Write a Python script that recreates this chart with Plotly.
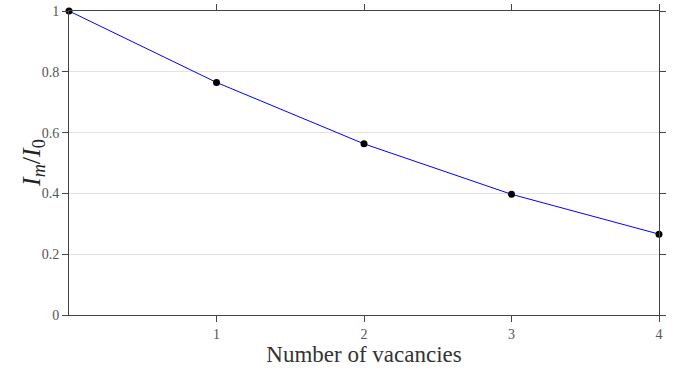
import plotly.graph_objects as go

vacancies = [0, 1, 2, 3, 4]
ratio = [1.0, 0.765, 0.563, 0.397, 0.266]
x_ticks = [1, 2, 3, 4]
y_ticks = [0, 0.2, 0.4, 0.6, 0.8, 1]
y_tick_labels = ["0", "0.2", "0.4", "0.6", "0.8", "1"]

fig = go.Figure()
fig.add_trace(go.Scatter(
    x=vacancies, y=ratio, mode="lines+markers",
    line=dict(color="#0000ff", width=1),
    marker=dict(color="black", size=7),
    cliponaxis=False, showlegend=False,
))

font_family = "Liberation Serif, DejaVu Serif, serif"
fig.update_layout(
    width=673, height=370, autosize=False,
    margin=dict(l=69, r=14, t=11, b=55, autoexpand=False),
    paper_bgcolor="white", plot_bgcolor="white",
    font=dict(family=font_family, color="#333"),
    xaxis=dict(
        range=[0, 4], tickvals=x_ticks, ticktext=[str(v) for v in x_ticks],
        showgrid=False, zeroline=False, automargin=False,
        showline=True, linecolor="#444", linewidth=1, mirror="ticks",
        ticks="outside", ticklen=6, tickcolor="#444",
        tickfont=dict(size=14, color="#555", family=font_family),
        title=dict(text="Number of vacancies", font=dict(size=23, color="#333", family=font_family), standoff=5),
    ),
    yaxis=dict(
        range=[0, 1], tickvals=y_ticks, ticktext=y_tick_labels,
        showgrid=True, gridcolor="#e3e3e3", gridwidth=1, zeroline=False, automargin=False,
        showline=True, linecolor="#444", linewidth=1, mirror="ticks",
        ticks="outside", ticklen=6, tickcolor="#444",
        tickfont=dict(size=14, color="#555", family=font_family),
    ),
    annotations=[dict(
        text="<i>I<sub>m</sub></i>/<i>I</i><sub>0</sub>",
        xref="paper", yref="paper", x=0, y=0.5, xanchor="center", yanchor="middle",
        xshift=-36, textangle=-90, showarrow=False,
        font=dict(size=26, color="#222", family=font_family),
    )],
)

fig.write_html(
    "out.html",
    config={"displayModeBar": False},
    post_script="document.body.style.margin='0';document.body.style.overflow='hidden';",
)
